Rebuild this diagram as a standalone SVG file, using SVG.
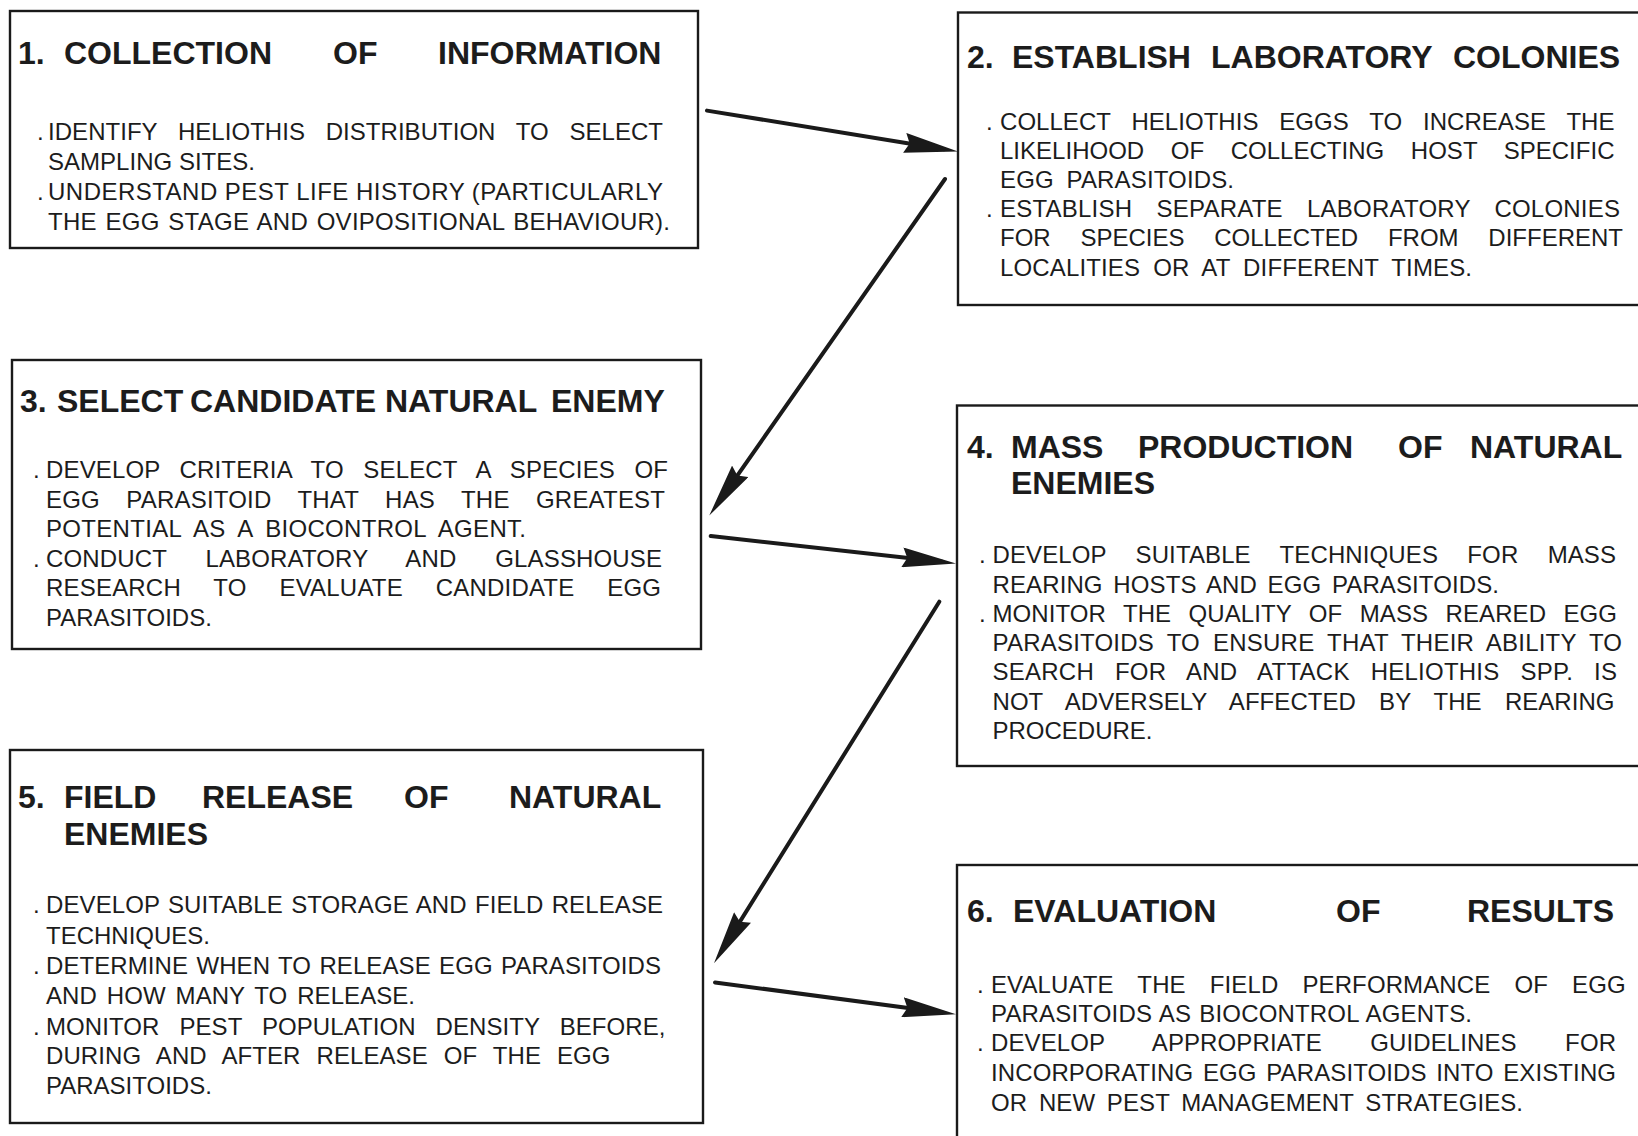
<svg xmlns="http://www.w3.org/2000/svg" width="1638" height="1136" viewBox="0 0 1638 1136">
<style>
.box{fill:none;stroke:#1a1a1a;stroke-width:2.4}
.t{font-family:"Liberation Sans",Arial,Helvetica,sans-serif;font-weight:bold;font-size:32px;fill:#1c1c1c}
.b{font-family:"Liberation Sans",Arial,Helvetica,sans-serif;font-size:24px;fill:#1c1c1c}
.conn line{stroke:#1a1a1a;stroke-width:4;stroke-linecap:round}
</style>
<defs>
<marker id="ah" markerUnits="userSpaceOnUse" viewBox="0 0 54 20" markerWidth="54" markerHeight="20" refX="40" refY="10" orient="auto">
<path d="M0,0 L54,10 L0,20 L5,10 z" fill="#1a1a1a"/>
</marker>
</defs>
<rect width="1638" height="1136" fill="#ffffff"/>

<g id="node1">
<rect class="box" x="10" y="11" width="688" height="237"/>
<text class="t" y="63.5"><tspan x="18">1.</tspan><tspan x="64">COLLECTION</tspan><tspan x="333">OF</tspan><tspan x="438">INFORMATION</tspan></text>
<text class="b" x="37" y="139.5">.</text>
<text class="b" x="48" y="139.5" word-spacing="14" textLength="615" lengthAdjust="spacing">IDENTIFY HELIOTHIS DISTRIBUTION TO SELECT</text>
<text class="b" x="48" y="169.5" textLength="207" lengthAdjust="spacing">SAMPLING SITES.</text>
<text class="b" x="37" y="199.5">.</text>
<text class="b" x="48" y="199.5" textLength="615" lengthAdjust="spacing">UNDERSTAND PEST LIFE HISTORY (PARTICULARLY</text>
<text class="b" x="48" y="229.5" word-spacing="1.8" textLength="622" lengthAdjust="spacing">THE EGG STAGE AND OVIPOSITIONAL BEHAVIOUR).</text>
</g>

<g id="node2">
<rect class="box" x="958" y="12.5" width="720" height="292.5"/>
<text class="t" y="68"><tspan x="967">2.</tspan><tspan x="1012">ESTABLISH</tspan><tspan x="1211">LABORATORY</tspan><tspan x="1453">COLONIES</tspan></text>
<text class="b" x="986" y="130">.</text>
<text class="b" x="1000" y="130" word-spacing="14.1" textLength="614.5" lengthAdjust="spacing">COLLECT HELIOTHIS EGGS TO INCREASE THE</text>
<text class="b" x="1000" y="159" word-spacing="19.9" textLength="614.5" lengthAdjust="spacing">LIKELIHOOD OF COLLECTING HOST SPECIFIC</text>
<text class="b" x="1000" y="188" word-spacing="6" textLength="234" lengthAdjust="spacing">EGG PARASITOIDS.</text>
<text class="b" x="986" y="217">.</text>
<text class="b" x="1000" y="217" word-spacing="17.3" textLength="620" lengthAdjust="spacing">ESTABLISH SEPARATE LABORATORY COLONIES</text>
<text class="b" x="1000" y="246" word-spacing="23.1" textLength="623" lengthAdjust="spacing">FOR SPECIES COLLECTED FROM DIFFERENT</text>
<text class="b" x="1000" y="276" word-spacing="6.3" textLength="472" lengthAdjust="spacing">LOCALITIES OR AT DIFFERENT TIMES.</text>
</g>

<g id="node3">
<rect class="box" x="12" y="360" width="689" height="289"/>
<text class="t" y="411.5"><tspan x="20">3.</tspan><tspan x="57">SELECT</tspan><tspan x="190">CANDIDATE</tspan><tspan x="385">NATURAL</tspan><tspan x="551">ENEMY</tspan></text>
<text class="b" x="33" y="478">.</text>
<text class="b" x="46" y="478" word-spacing="12.75" textLength="622" lengthAdjust="spacing">DEVELOP CRITERIA TO SELECT A SPECIES OF</text>
<text class="b" x="46" y="507.5" word-spacing="19.5" textLength="619" lengthAdjust="spacing">EGG PARASITOID THAT HAS THE GREATEST</text>
<text class="b" x="46" y="537" word-spacing="6" textLength="480" lengthAdjust="spacing">POTENTIAL AS A BIOCONTROL AGENT.</text>
<text class="b" x="33" y="566.5">.</text>
<text class="b" x="46" y="566.5" word-spacing="32" textLength="616" lengthAdjust="spacing">CONDUCT LABORATORY AND GLASSHOUSE</text>
<text class="b" x="46" y="596" word-spacing="26" textLength="615" lengthAdjust="spacing">RESEARCH TO EVALUATE CANDIDATE EGG</text>
<text class="b" x="46" y="625.5">PARASITOIDS.</text>
</g>

<g id="node4">
<rect class="box" x="957" y="405.5" width="720" height="360.5"/>
<text class="t" y="457.5"><tspan x="967">4.</tspan><tspan x="1011">MASS</tspan><tspan x="1138">PRODUCTION</tspan><tspan x="1398">OF</tspan><tspan x="1470">NATURAL</tspan></text>
<text class="t" x="1011" y="494">ENEMIES</text>
<text class="b" x="979" y="563.3">.</text>
<text class="b" x="992.5" y="563.3" word-spacing="22.5" textLength="623.5" lengthAdjust="spacing">DEVELOP SUITABLE TECHNIQUES FOR MASS</text>
<text class="b" x="992.5" y="592.5" word-spacing="3.9" textLength="506.5" lengthAdjust="spacing">REARING HOSTS AND EGG PARASITOIDS.</text>
<text class="b" x="979" y="621.8">.</text>
<text class="b" x="992.5" y="621.8" word-spacing="10.7" textLength="624.5" lengthAdjust="spacing">MONITOR THE QUALITY OF MASS REARED EGG</text>
<text class="b" x="992.5" y="651" word-spacing="6.2" textLength="629.5" lengthAdjust="spacing">PARASITOIDS TO ENSURE THAT THEIR ABILITY TO</text>
<text class="b" x="992.5" y="680.3" word-spacing="14.1" textLength="624.5" lengthAdjust="spacing">SEARCH FOR AND ATTACK HELIOTHIS SPP. IS</text>
<text class="b" x="992.5" y="709.5" word-spacing="16.5" textLength="622" lengthAdjust="spacing">NOT ADVERSELY AFFECTED BY THE REARING</text>
<text class="b" x="992.5" y="738.8">PROCEDURE.</text>
</g>

<g id="node5">
<rect class="box" x="10" y="750" width="693" height="373"/>
<text class="t" y="807.5"><tspan x="18">5.</tspan><tspan x="64">FIELD</tspan><tspan x="202">RELEASE</tspan><tspan x="404">OF</tspan><tspan x="509">NATURAL</tspan></text>
<text class="t" x="64" y="845">ENEMIES</text>
<text class="b" x="33" y="913">.</text>
<text class="b" x="46" y="913" word-spacing="1.5" textLength="617" lengthAdjust="spacing">DEVELOP SUITABLE STORAGE AND FIELD RELEASE</text>
<text class="b" x="46" y="943.5">TECHNIQUES.</text>
<text class="b" x="33" y="974">.</text>
<text class="b" x="46" y="974" word-spacing="1.6" textLength="615" lengthAdjust="spacing">DETERMINE WHEN TO RELEASE EGG PARASITOIDS</text>
<text class="b" x="46" y="1004" word-spacing="3.25" textLength="369" lengthAdjust="spacing">AND HOW MANY TO RELEASE.</text>
<text class="b" x="33" y="1034.5">.</text>
<text class="b" x="46" y="1034.5" word-spacing="13.2" textLength="619.5" lengthAdjust="spacing">MONITOR PEST POPULATION DENSITY BEFORE,</text>
<text class="b" x="46" y="1063.6" word-spacing="9.2" textLength="564.5" lengthAdjust="spacing">DURING AND AFTER RELEASE OF THE EGG</text>
<text class="b" x="46" y="1094">PARASITOIDS.</text>
</g>

<g id="node6">
<rect class="box" x="957" y="865" width="720" height="300"/>
<text class="t" y="922"><tspan x="967">6.</tspan><tspan x="1013">EVALUATION</tspan><tspan x="1336">OF</tspan><tspan x="1467">RESULTS</tspan></text>
<text class="b" x="977" y="992.6">.</text>
<text class="b" x="991" y="992.6" word-spacing="17.3" textLength="634.6" lengthAdjust="spacing">EVALUATE THE FIELD PERFORMANCE OF EGG</text>
<text class="b" x="991" y="1022" word-spacing="1.2" textLength="481" lengthAdjust="spacing">PARASITOIDS AS BIOCONTROL AGENTS.</text>
<text class="b" x="977" y="1051">.</text>
<text class="b" x="991" y="1051" word-spacing="41.6" textLength="625" lengthAdjust="spacing">DEVELOP APPROPRIATE GUIDELINES FOR</text>
<text class="b" x="991" y="1081.4" word-spacing="2.9" textLength="625" lengthAdjust="spacing">INCORPORATING EGG PARASITOIDS INTO EXISTING</text>
<text class="b" x="991" y="1110.6" word-spacing="5" textLength="532" lengthAdjust="spacing">OR NEW PEST MANAGEMENT STRATEGIES.</text>
</g>

<g id="connectors" class="conn">
<line x1="707" y1="110.6" x2="944.2" y2="149.25" marker-end="url(#ah)"/>
<line x1="945" y1="179" x2="717.3" y2="504.1" marker-end="url(#ah)"/>
<line x1="710.7" y1="536" x2="942.1" y2="561.85" marker-end="url(#ah)"/>
<line x1="939.3" y1="601.7" x2="721.4" y2="951.4" marker-end="url(#ah)"/>
<line x1="715" y1="982.4" x2="942.1" y2="1012.5" marker-end="url(#ah)"/>
</g>
</svg>
